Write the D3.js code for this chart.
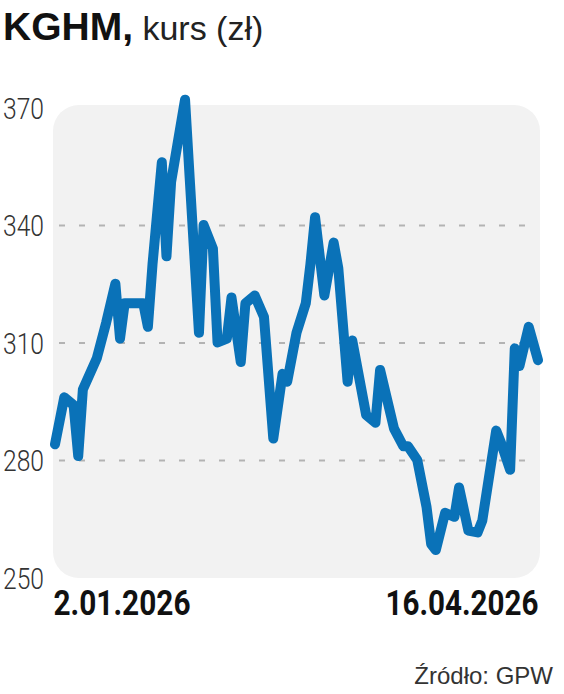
<!DOCTYPE html>
<html>
<head>
<meta charset="utf-8">
<script src="https://cdn.jsdelivr.net/npm/d3@7"></script>
<style>
  body { margin: 0; background: #fff; }
  svg { display: block; }
</style>
</head>
<body>
<div id="chart"></div>
<script>
/* DATA */
const dates = [
  "2026-01-02","2026-01-04","2026-01-06","2026-01-07","2026-01-08","2026-01-11",
  "2026-01-13","2026-01-15","2026-01-16","2026-01-17","2026-01-21","2026-01-22",
  "2026-01-23","2026-01-25","2026-01-26","2026-01-27","2026-01-30","2026-01-31",
  "2026-02-02","2026-02-03","2026-02-05","2026-02-06","2026-02-08","2026-02-09",
  "2026-02-11","2026-02-12","2026-02-14","2026-02-16","2026-02-18","2026-02-20",
  "2026-02-21","2026-02-23","2026-02-25","2026-02-26","2026-02-27","2026-03-01",
  "2026-03-03","2026-03-04","2026-03-06","2026-03-07","2026-03-10","2026-03-12",
  "2026-03-13","2026-03-16","2026-03-18","2026-03-19","2026-03-21","2026-03-23",
  "2026-03-24","2026-03-25","2026-03-27","2026-03-29","2026-03-30","2026-04-01",
  "2026-04-03","2026-04-04","2026-04-07","2026-04-08","2026-04-10","2026-04-11",
  "2026-04-12","2026-04-14","2026-04-16"
];
const prices = [
  284, 296, 294, 281, 298, 306,
  315, 325, 311, 320, 320, 314,
  330, 356, 332, 351, 372, 352,
  312.5, 340, 334, 310, 311, 321.5,
  305, 320, 322, 316.5, 285.5, 302,
  300, 312.5, 320, 330, 342, 322,
  335.5, 329, 300, 310.5, 291.5, 289.5,
  303, 288, 283.5, 283.5, 280, 268,
  258.5, 257, 266.5, 265.5, 273, 262,
  261.5, 264.5, 287.5, 284.5, 277.5, 308.5,
  304, 314, 305.5
];
const yTicks = [250, 280, 310, 340, 370];
const gridTicks = [280, 310, 340];
const titleBold = "KGHM,";
const titleRest = " kurs (zł)";
const source = "Źródło: GPW";

/* CONSTANTS */
const width = 564, height = 694;
const panel = {x: 53, y: 105, w: 487, h: 473, r: 26};

const parse = d3.timeParse("%Y-%m-%d");
const fmt = d3.timeFormat("%-d.%m.%Y");
const data = dates.map((d, i) => ({date: parse(d), price: prices[i]}));

const svg = d3.select("#chart")
  .append("svg")
  .attr("width", width)
  .attr("height", height);

// scales
const xScale = d3.scaleTime()
  .domain(d3.extent(data, d => d.date))
  .range([55, 538]);

const yScale = d3.scaleLinear()
  .domain([250, 370])
  .range([577.5, 107.5]);

// title
const title = svg.append("text")
  .attr("x", 3)
  .attr("y", 40)
  .attr("font-family", "Liberation Sans, Arial, sans-serif")
  .attr("fill", "#111");
title.append("tspan")
  .attr("font-size", 39)
  .attr("font-weight", 900)
  .text(titleBold);
title.append("tspan")
  .attr("font-size", 34)
  .attr("font-weight", 400)
  .attr("fill", "#222")
  .text(titleRest);

// background panel
svg.append("rect")
  .attr("x", panel.x)
  .attr("y", panel.y)
  .attr("width", panel.w)
  .attr("height", panel.h)
  .attr("rx", panel.r)
  .attr("fill", "#f2f2f2");

// gridlines
const gridAxis = d3.axisLeft(yScale)
  .tickValues(gridTicks)
  .tickSize(475)
  .tickFormat("");

svg.append("g")
  .attr("class", "grid")
  .attr("transform", `translate(${525},0)`)
  .call(gridAxis)
  .call(g => g.select(".domain").remove())
  .call(g => g.selectAll("line")
    .attr("stroke", "#b3b3b3")
    .attr("stroke-width", 2)
    .attr("stroke-dasharray", "6,14"));

// y axis labels (squeezed to look condensed)
const yAxis = d3.axisLeft(yScale)
  .tickValues(yTicks)
  .tickSize(0)
  .tickPadding(0);

svg.append("g")
  .attr("class", "yAxis")
  .attr("transform", `translate(${44},0)`)
  .call(yAxis)
  .call(g => g.select(".domain").remove())
  .call(g => g.selectAll("text")
    .attr("font-family", "Roboto, Liberation Sans, sans-serif")
    .attr("font-weight", 300)
    .attr("font-size", 30)
    .attr("fill", "#333")
    .attr("textLength", 41)
    .attr("lengthAdjust", "spacingAndGlyphs")
    .attr("dy", "0.36em"));

// x axis: first and last date only
const xAxis = d3.axisBottom(xScale)
  .tickValues(d3.extent(data, d => d.date))
  .tickSize(0)
  .tickPadding(0)
  .tickFormat(fmt);

svg.append("g")
  .attr("class", "xAxis")
  .attr("transform", `translate(0,${615})`)
  .call(xAxis)
  .call(g => g.select(".domain").remove())
  .call(g => g.selectAll("text")
    .attr("font-family", "Roboto, Liberation Sans, sans-serif")
    .attr("font-weight", "bold")
    .attr("font-size", 35)
    .attr("fill", "#111")
    .attr("dy", 0)
    .attr("textLength", (d, i) => i === 0 ? 137 : 153)
    .attr("lengthAdjust", "spacingAndGlyphs")
    .attr("text-anchor", (d, i) => i === 0 ? "start" : "end")
    .attr("dx", (d, i) => i === 0 ? -2 : 0));

// line
const lineGen = d3.line()
  .x(d => xScale(d.date))
  .y(d => yScale(d.price));

svg.append("path")
  .datum(data)
  .attr("class", "line")
  .attr("fill", "none")
  .attr("stroke", "#0a72b8")
  .attr("stroke-width", 10)
  .attr("stroke-linejoin", "round")
  .attr("stroke-linecap", "round")
  .attr("d", lineGen);

// source
svg.append("text")
  .attr("x", 553)
  .attr("y", 684)
  .attr("text-anchor", "end")
  .attr("font-family", "Liberation Sans, Arial, sans-serif")
  .attr("font-size", 24)
  .attr("fill", "#333")
  .text(source);
</script>
</body>
</html>
